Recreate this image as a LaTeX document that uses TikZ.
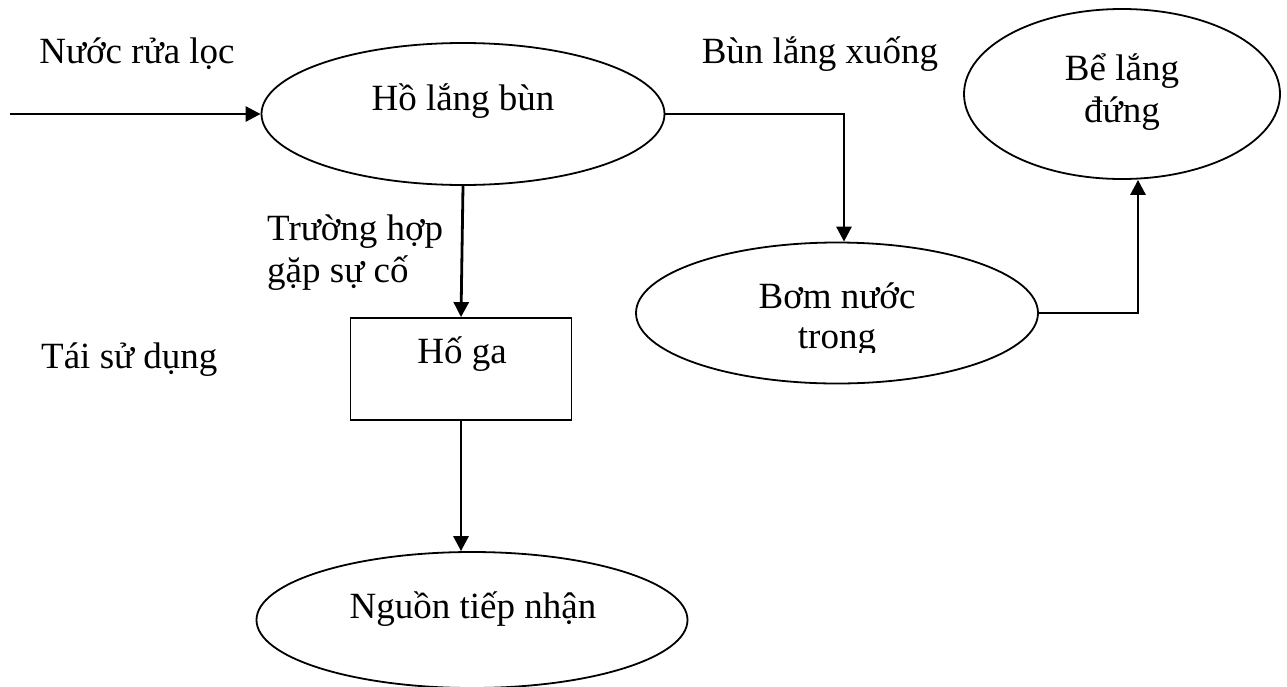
\documentclass[tikz,border=0pt]{standalone}
\usepackage{fontspec}
\setmainfont{Liberation Serif}
\usetikzlibrary{shapes.geometric,arrows.meta}
\begin{document}
\begin{tikzpicture}[x=1pt,y=-1pt,
  every node/.style={font=\fontsize{37}{37}\selectfont},
  oval/.style={draw, ellipse, line width=1.8pt, inner sep=0pt, minimum width=#1},
  boxnode/.style={draw, rectangle, line width=1.8pt, inner sep=0pt},
  txt/.style={anchor=base, inner sep=0pt},
  flow/.style={line width=2.8pt, -{Triangle[length=15pt,width=15pt]}}
]
\useasboundingbox (0,0) rectangle (1287,686);

% shapes
\node[oval=403pt, minimum height=142pt] (hol) at (463,114) {};
\node[oval=316pt, minimum height=170pt] (be) at (1122,94) {};
\node[oval=402pt, minimum height=141pt] (bom) at (837,313) {};
\node[boxnode, minimum width=221pt, minimum height=102pt] (hoga) at (461,369) {};
\node[oval=431pt, minimum height=136pt] (nguon) at (472,620) {};

% texts
\node[txt] (t1) at (137,63) {Nước rửa lọc};
\node[txt] (t2) at (820,63) {Bùn lắng xuống};
\node[txt] (t3) at (463,110) {Hồ lắng bùn};
\node[txt] (t4a) at (1122,80) {Bể lắng};
\node[txt] (t4b) at (1122,122) {đứng};
\node[txt, anchor=base west] (t5a) at (267,240) {Trường hợp};
\node[txt, anchor=base west] (t5b) at (267,282) {gặp sự cố};
\node[txt] (t6) at (462,363) {Hố ga};
\node[txt, anchor=base west] (t7) at (41,368) {Tái sử dụng};
\node[txt] (t8a) at (837,308) {Bơm nước};
\begin{scope}
\clip (600,325) rectangle (1100,352);
\node[txt] (t8b) at (837,348) {trong};
\end{scope}
\node[txt] (t9) at (473,618) {Nguồn tiếp nhận};

% connectors
\coordinate (src) at (10,114);
\draw[flow] (src) -- (hol.west);
\draw[flow] (hol.east) -| ([xshift=7pt]bom.north);
\draw[flow] (bom.east) -| ([xshift=16pt]be.south);
\draw[flow] (hol.south) -- (hoga.north);
\draw[flow] (hoga.south) -- (hoga.south |- nguon.north);
\end{tikzpicture}
\end{document}
